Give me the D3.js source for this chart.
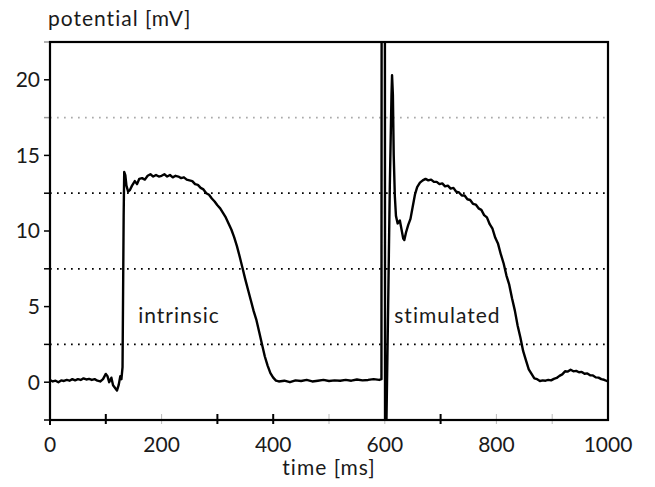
<!DOCTYPE html>
<html>
<head>
<meta charset="utf-8">
<script src="https://cdn.jsdelivr.net/npm/d3@7"></script>
<style>
  body { margin: 0; background: #fff; }
  svg { display: block; font-family: Lato, "Open Sans", sans-serif; }
  .tick-label { font-size: 21px; fill: #1a1a1a; }
  .axis-title { font-size: 21px; fill: #1a1a1a; letter-spacing: 1px; }
  .note { font-size: 21px; fill: #1a1a1a; letter-spacing: 1px; }
</style>
</head>
<body>
<div id="chart"></div>
<script>
// sampled trace: time (ms) and potential (mV)
const timeMs = [
  0, 5, 10, 15, 20, 25, 30, 35, 40, 45, 50, 55, 60, 65, 70, 75, 80, 85, 90, 95,
  100, 103, 106, 110, 113, 117, 120, 123, 126, 128, 130, 131, 132, 133, 135, 137,
  140, 143, 147, 152, 156, 160, 165, 170, 175, 180, 185, 190, 195, 200, 205, 210,
  215, 220, 225, 230, 235, 240, 245, 250, 255, 260, 265, 270, 275, 280, 285, 290,
  295, 300, 305, 310, 315, 320, 325, 330, 335, 340, 345, 350, 355, 360, 365, 370,
  375, 380, 385, 390, 395, 400, 405, 410, 420, 430, 440, 450, 460, 470, 480, 490,
  500, 510, 520, 530, 540, 550, 560, 570, 580, 590, 594, 594.5, 600, 600.5, 603,
  606, 609, 612, 613, 614.5, 616, 618, 620, 623, 627, 630, 633, 635, 638, 642, 646,
  650, 654, 658, 663, 668, 673, 678, 683, 688, 693, 698, 703, 708, 713, 718, 723,
  728, 733, 738, 743, 748, 753, 758, 763, 768, 773, 778, 783, 788, 793, 798, 803,
  808, 813, 818, 823, 828, 833, 838, 843, 848, 853, 858, 863, 868, 873, 878, 883,
  888, 893, 898, 903, 908, 913, 918, 923, 928, 933, 938, 943, 948, 953, 958, 963,
  968, 973, 978, 983, 988, 993, 998, 1000
];
const potentialMv = [
  0.15, 0.05, 0.1, 0.0, 0.12, 0.08, 0.15, 0.1, 0.2, 0.12, 0.2, 0.15, 0.25, 0.18, 0.22, 0.15, 0.2, 0.1, 0.05, 0.2,
  0.55, 0.4, 0.0, 0.3, -0.2, -0.4, -0.55, -0.2, 0.4, 0.2, 1.0, 6, 11, 13.9, 13.7, 13.0,
  12.6, 12.7, 13.0, 13.3, 13.1, 13.45, 13.5, 13.4, 13.65, 13.75, 13.6, 13.7, 13.6, 13.65, 13.75, 13.6,
  13.7, 13.55, 13.65, 13.6, 13.5, 13.55, 13.4, 13.35, 13.3, 13.1, 13.05, 12.85, 12.75, 12.5, 12.4, 12.15,
  11.95, 11.7, 11.5, 11.2, 10.9, 10.5, 10.1, 9.6, 9.0, 8.3, 7.55, 6.8, 6.1, 5.4, 4.7, 4.1,
  3.3, 2.5, 1.7, 1.1, 0.6, 0.3, 0.1, 0.05, 0.1, 0.0, 0.12, 0.08, 0.15, 0.05, 0.1, 0.15,
  0.08, 0.12, 0.1, 0.15, 0.1, 0.18, 0.12, 0.15, 0.2, 0.15, 0.2, 40, 40, -8, -2.5,
  5, 13, 19, 20.3, 19, 15, 12.3, 11, 10.5, 10.7, 10.1, 9.5, 9.4, 9.9, 10.4, 10.8,
  11.6, 12.4, 12.9, 13.2, 13.35, 13.45, 13.35, 13.4, 13.25, 13.25, 13.1, 13.15, 12.95, 13.0, 12.8, 12.85,
  12.6, 12.55, 12.35, 12.35, 12.1, 12.05, 11.8, 11.75, 11.5, 11.4, 11.05, 10.9, 10.45, 10.15, 9.55, 9.15,
  8.45, 7.85, 7.05, 6.45, 5.55, 4.75, 3.75, 2.95, 2.05, 1.45, 0.85, 0.55, 0.25, 0.2, 0.08, 0.12,
  0.1, 0.15, 0.12, 0.22, 0.28, 0.42, 0.52, 0.72, 0.7, 0.82, 0.72, 0.75, 0.66, 0.68, 0.56, 0.58,
  0.46, 0.45, 0.32, 0.3, 0.2, 0.16, 0.08, 0.08
];

const xTickLabels = [0, 200, 400, 600, 800, 1000];
const xMinorTicks = [100, 200, 300, 400, 500, 600, 700, 800, 900];
const xGrayTicks = [200, 500, 600, 800, 900];
const yTickLabels = [0, 5, 10, 15, 20];
const yMinorTicks = [-2.5, 0, 2.5, 5, 7.5, 10, 12.5, 15, 17.5, 20, 22.5];
const gridValues = [2.5, 7.5, 12.5, 17.5];
const notes = [
  { text: "intrinsic", t: 158, v: 3.9 },
  { text: "stimulated", t: 617, v: 3.9 },
];

const width = 655;
const height = 487;
const margin = { top: 42, right: 47, bottom: 67, left: 50 };

const x = d3.scaleLinear().domain([0, 1000])
  .range([margin.left, width - margin.right]);
const y = d3.scaleLinear().domain([-2.5, 22.5])
  .range([height - margin.bottom, margin.top]);

const svg = d3.select("#chart").append("svg")
  .attr("width", width)
  .attr("height", height)
  .attr("viewBox", [0, 0, width, height]);

svg.append("clipPath").attr("id", "plot-clip")
  .append("rect")
  .attr("x", margin.left)
  .attr("y", margin.top)
  .attr("width", width - margin.left - margin.right)
  .attr("height", height - margin.top - margin.bottom);

// dotted grid
svg.append("g")
  .selectAll("line")
  .data(gridValues)
  .join("line")
  .attr("x1", margin.left)
  .attr("x2", width - margin.right)
  .attr("y1", (d) => y(d))
  .attr("y2", (d) => y(d))
  .attr("stroke", (d) => (d === 17.5 ? "#aaa" : "#000"))
  .attr("stroke-width", 1.7)
  .attr("stroke-dasharray", "1.7,5.3");

// y ticks (outside, left)
svg.append("g")
  .selectAll("line")
  .data(yMinorTicks)
  .join("line")
  .attr("x1", margin.left - 6)
  .attr("x2", margin.left)
  .attr("y1", (d) => y(d))
  .attr("y2", (d) => y(d))
  .attr("stroke", (d) => (d === 17.5 || d === 22.5 ? "#999" : "#000"))
  .attr("stroke-width", 1.5);

// x ticks crossing the axis
svg.append("g")
  .selectAll("line")
  .data(xMinorTicks)
  .join("line")
  .attr("x1", (d) => x(d))
  .attr("x2", (d) => x(d))
  .attr("y1", y(-2.5) - 6)
  .attr("y2", y(-2.5) + 4)
  .attr("stroke", (d) => (xGrayTicks.includes(d) ? "#bbb" : "#000"))
  .attr("stroke-width", (d) => (xGrayTicks.includes(d) ? 1 : 2));

svg.append("line")
  .attr("x1", x(0)).attr("x2", x(0))
  .attr("y1", y(-2.5)).attr("y2", y(-2.5) + 5)
  .attr("stroke", "#000").attr("stroke-width", 2);

// trace
const line = d3.line()
  .x((d, i) => x(timeMs[i]))
  .y((d) => y(d));

svg.append("path")
  .datum(potentialMv)
  .attr("clip-path", "url(#plot-clip)")
  .attr("fill", "none")
  .attr("stroke", "#000")
  .attr("stroke-width", 2.4)
  .attr("stroke-linejoin", "round")
  .attr("d", line);

// frame
svg.append("rect")
  .attr("x", margin.left)
  .attr("y", margin.top)
  .attr("width", width - margin.left - margin.right)
  .attr("height", height - margin.top - margin.bottom)
  .attr("fill", "none")
  .attr("stroke", "#000")
  .attr("stroke-width", 2.2);

// tick labels
svg.append("g")
  .selectAll("text")
  .data(yTickLabels)
  .join("text")
  .attr("class", "tick-label")
  .attr("x", margin.left - 10)
  .attr("y", (d) => y(d))
  .attr("dy", "0.35em")
  .attr("text-anchor", "end")
  .text((d) => d);

svg.append("g")
  .selectAll("text")
  .data(xTickLabels)
  .join("text")
  .attr("class", "tick-label")
  .attr("x", (d) => x(d))
  .attr("y", y(-2.5) + 32)
  .attr("text-anchor", "middle")
  .text((d) => d);

// axis titles
svg.append("text")
  .attr("class", "axis-title")
  .attr("x", 48)
  .attr("y", 26)
  .text("potential [mV]");

svg.append("text")
  .attr("class", "axis-title")
  .attr("x", (x(0) + x(1000)) / 2)
  .attr("y", 475)
  .attr("text-anchor", "middle")
  .text("time [ms]");

// annotations
svg.append("g")
  .selectAll("text")
  .data(notes)
  .join("text")
  .attr("class", "note")
  .attr("x", (d) => x(d.t))
  .attr("y", (d) => y(d.v))
  .text((d) => d.text);
</script>
</body>
</html>
